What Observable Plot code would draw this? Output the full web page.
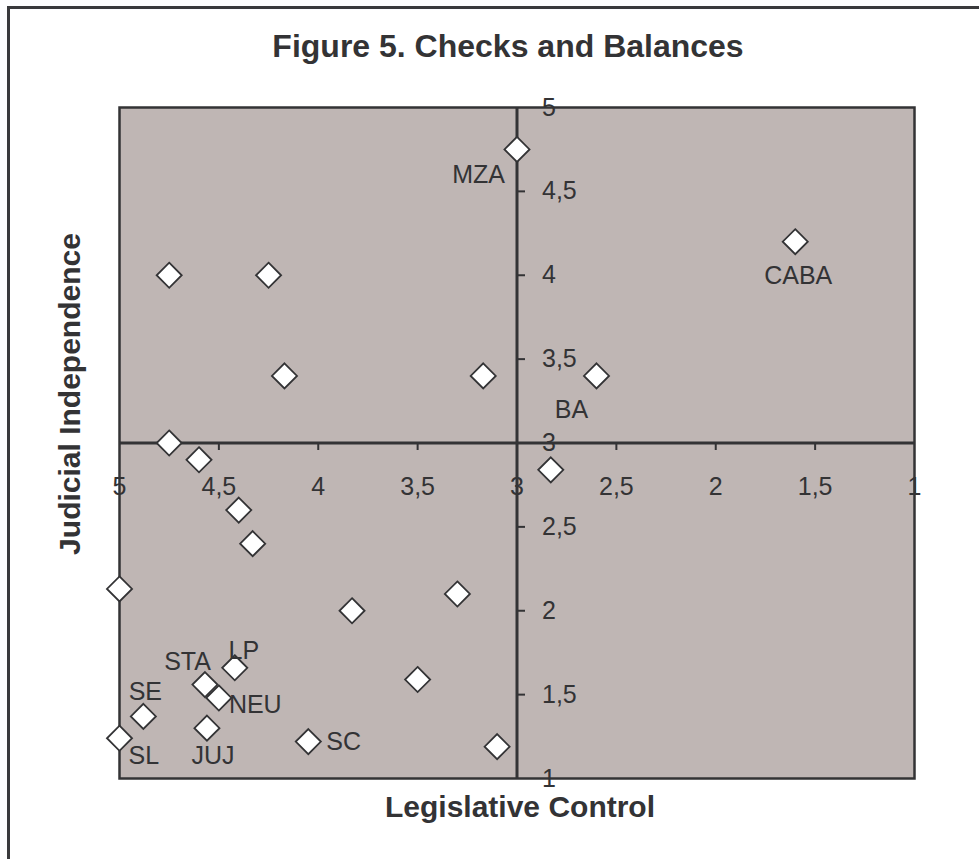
<!DOCTYPE html>
<html>
<head>
<meta charset="utf-8">
<script src="https://cdn.jsdelivr.net/npm/d3@7"></script>
<script src="https://cdn.jsdelivr.net/npm/@observablehq/plot@0.6"></script>
<style>
  html, body { margin: 0; padding: 0; background: #ffffff; }
  #wrap { position: relative; width: 979px; height: 859px; overflow: hidden; }
  #border { position: absolute; left: 7px; top: 6px; width: 1000px; height: 900px;
            border-left: 3px solid #3a3a3c; border-top: 3px solid #3a3a3c; pointer-events: none; }
  #chart { position: absolute; left: 0; top: 0; }
</style>
</head>
<body>
<div id="wrap"><div id="chart"></div><div id="border"></div></div>
<script>
// ---- data ----
const provinces   = ["MZA", "", "", "", "", "", "", "CABA", "BA", "", "", "", "", "", "", "LP", "STA", "NEU", "", "SE", "JUJ", "SL", "SC", ""];
const legislative = [3.00, 4.75, 4.25, 4.17, 3.17, 4.75, 4.60, 1.60, 2.60, 2.83, 4.40, 4.33, 5.00, 3.30, 3.83, 4.42, 4.57, 4.50, 3.50, 4.88, 4.56, 5.00, 4.05, 3.10];
const judicial    = [4.75, 4.00, 4.00, 3.40, 3.40, 3.00, 2.90, 4.20, 3.40, 2.84, 2.60, 2.40, 2.13, 2.10, 2.00, 1.66, 1.56, 1.48, 1.59, 1.37, 1.30, 1.24, 1.22, 1.19];

const xTickValues = [5, 4.5, 4, 3.5, 3, 2.5, 2, 1.5, 1];
const xTickLabels = ["5", "4,5", "4", "3,5", "3", "2,5", "2", "1,5", "1"];
const yTickValues = [5, 4.5, 4, 3.5, 3, 2.5, 2, 1.5, 1];
const yTickLabels = ["5", "4,5", "4", "3,5", "3", "2,5", "2", "1,5", "1"];
const crossing = 3;

const titleText = "Figure 5. Checks and Balances";
const xTitle = "Legislative Control";
const yTitle = "Judicial Independence";

// ---- build ----
const points = provinces.map((p, i) => ({name: p, x: legislative[i], y: judicial[i]}));
const xTicks = xTickValues.map((v, i) => ({v, label: xTickLabels[i]}));
const yTicks = yTickValues.map((v, i) => ({v, label: yTickLabels[i]}));
const minorX = xTickValues.filter(v => v !== crossing && v !== 5 && v !== 1);
const minorY = yTickValues.filter(v => v !== crossing && v !== 5 && v !== 1);

const ink = "#333335";
const font = "'Liberation Sans', Arial, sans-serif";

const tickDown = {draw(ctx) { ctx.moveTo(0, 0); ctx.lineTo(0, 7); }};
const tickRight = {draw(ctx) { ctx.moveTo(0, 0); ctx.lineTo(8, 0); }};

const lbl = (name, opts) => Plot.text(points.filter(d => d.name === name), {
  x: "x", y: "y", text: "name", fontSize: 25, fill: ink, lineAnchor: "middle", ...opts
});

const chart = Plot.plot({
  width: 979,
  height: 859,
  marginLeft: 119,
  marginRight: 65,
  marginTop: 107,
  marginBottom: 81,
  style: {background: "transparent", fontFamily: font, color: ink},
  x: {domain: [5, 1], axis: null},
  y: {domain: [1, 5], axis: null},
  marks: [
    Plot.frame({fill: "#bfb6b4", stroke: ink, strokeWidth: 2.5}),
    Plot.ruleX([crossing], {stroke: ink, strokeWidth: 3}),
    Plot.ruleY([crossing], {stroke: ink, strokeWidth: 3}),
    Plot.dot(minorX, {x: d => d, y: crossing, symbol: tickDown, r: 1, fill: "none", stroke: ink, strokeWidth: 2}),
    Plot.dot(minorY, {x: crossing, y: d => d, symbol: tickRight, r: 1, fill: "none", stroke: ink, strokeWidth: 2}),
    Plot.text(xTicks, {x: "v", y: crossing, text: "label", dy: 44, fontSize: 25, fill: ink, lineAnchor: "middle", textAnchor: "middle"}),
    Plot.text(yTicks, {x: crossing, y: "v", text: "label", dx: 25, fontSize: 25, fill: ink, lineAnchor: "middle", textAnchor: "start"}),
    Plot.dot(points, {x: "x", y: "y", symbol: "diamond2", r: 11.3, fill: "white", stroke: ink, strokeWidth: 1.8}),
    lbl("MZA", {textAnchor: "end", dx: -12, dy: 26}),
    lbl("CABA", {textAnchor: "middle", dx: 3, dy: 34}),
    lbl("BA", {textAnchor: "middle", dx: -25, dy: 34}),
    lbl("LP", {textAnchor: "middle", dx: 9, dy: -17}),
    lbl("STA", {textAnchor: "end", dx: 6, dy: -23}),
    lbl("NEU", {textAnchor: "start", dx: 10, dy: 7}),
    lbl("SE", {textAnchor: "middle", dx: 2, dy: -24}),
    lbl("JUJ", {textAnchor: "middle", dx: 6, dy: 28}),
    lbl("SL", {textAnchor: "start", dx: 9, dy: 18}),
    lbl("SC", {textAnchor: "start", dx: 18, dy: 0}),
    Plot.text([titleText], {frameAnchor: "top", dx: -9, dy: -61, fontSize: 32, fontWeight: "bold", fill: ink, lineAnchor: "middle", textAnchor: "middle"}),
    Plot.text([xTitle], {frameAnchor: "bottom", dx: 3, dy: 29, fontSize: 30, fontWeight: "bold", fill: ink, lineAnchor: "middle", textAnchor: "middle"}),
    Plot.text([yTitle], {frameAnchor: "left", dx: -49, dy: -49, rotate: -90, fontSize: 30, fontWeight: "bold", fill: ink, lineAnchor: "middle", textAnchor: "middle"})
  ]
});
document.getElementById("chart").appendChild(chart);
</script>
</body>
</html>
